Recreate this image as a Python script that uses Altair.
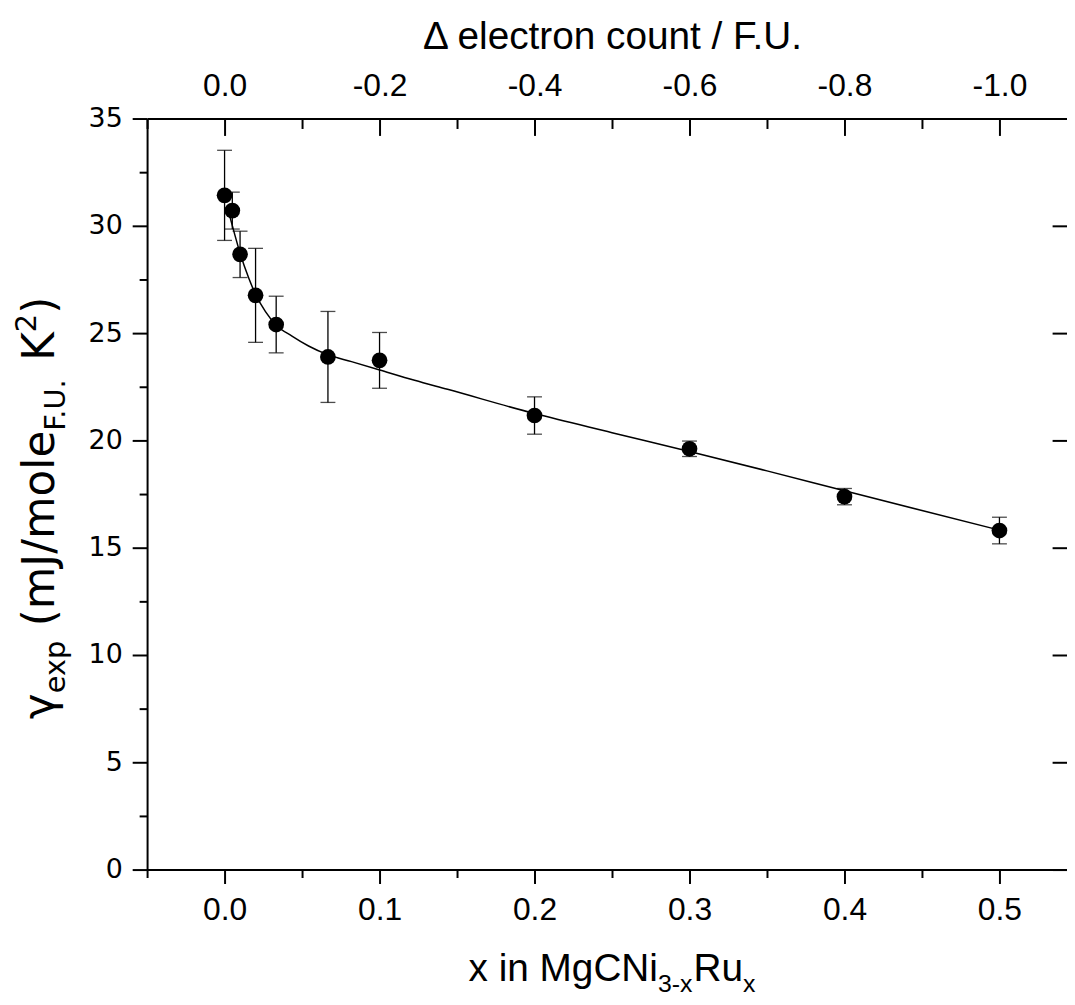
import altair as alt
import pandas as pd

# ---------------- data ----------------
x_ru = [0.0, 0.005, 0.01, 0.02, 0.0333, 0.0667, 0.1, 0.2, 0.3, 0.4, 0.5]
gamma_exp = [31.42, 30.71, 28.67, 26.76, 25.40, 23.89, 23.73, 21.16, 19.61, 17.38, 15.80]
gamma_err = [2.10, 0.86, 1.08, 2.19, 1.32, 2.12, 1.30, 0.87, 0.36, 0.38, 0.62]

fit_x = [0.0024, 0.0061, 0.0101, 0.0157, 0.0202, 0.0264, 0.0332, 0.0435, 0.0542,
         0.0661, 0.0819, 0.1001, 0.1226, 0.1439, 0.2, 0.25, 0.3, 0.35, 0.4, 0.45, 0.5]
fit_y = [30.70, 29.72, 28.70, 27.55, 26.78, 26.00, 25.38, 24.86, 24.40,
         24.01, 23.67, 23.28, 22.80, 22.38, 21.25, 20.36, 19.48, 18.58, 17.65, 16.73, 15.82]

x_major = [0.0, 0.1, 0.2, 0.3, 0.4, 0.5]
x_minor = [-0.05, 0.05, 0.15, 0.25, 0.35, 0.45]
y_major = [0, 5, 10, 15, 20, 25, 30, 35]
y_minor = [2.5, 7.5, 12.5, 17.5, 22.5, 27.5, 32.5]

top_title = "\u0394 electron count / F.U."

# ---------------- layout ----------------
W, H = 926, 756
PX_PER_X = 1560.0
X_MIN = -0.05
X_MAX = X_MIN + W / PX_PER_X
Y_MIN, Y_MAX = 0, 35

pts = pd.DataFrame({
    "x": x_ru,
    "y": gamma_exp,
    "lo": [v - e for v, e in zip(gamma_exp, gamma_err)],
    "hi": [v + e for v, e in zip(gamma_exp, gamma_err)],
})
fit = pd.DataFrame({"x": fit_x, "y": fit_y})

xs = alt.Scale(domain=[X_MIN, X_MAX], nice=False, zero=False)
ys = alt.Scale(domain=[Y_MIN, Y_MAX], nice=False, zero=False)

LF = "Liberation Sans"
XL_SIZE = 32
common = dict(grid=False, tickColor="black", domainColor="black", labelColor="black",
              tickWidth=2, domainWidth=2)

ax_bottom_major = alt.Axis(orient="bottom", values=x_major, format=".1f", tickSize=14,
                           labelFont=LF, labelFontSize=XL_SIZE, labelPadding=11,
                           labelFlush=False, labelOverlap=False, title=None, **common)
ax_bottom_minor = alt.Axis(orient="bottom", values=x_minor, tickSize=8, labels=False,
                           domain=False, title=None, **common)
ax_top_labels = alt.Axis(orient="top", values=x_major, ticks=False, tickSize=0,
                         labelExpr="datum.value == 0 ? '0.0' : '-' + format(2*datum.value, '.1f')",
                         labelFont=LF, labelFontSize=XL_SIZE, labelPadding=16,
                         labelFlush=False, labelOverlap=False,
                         title=top_title, titleFont=LF, titleFontSize=39,
                         titleFontWeight="normal", titleColor="black",
                         titleX=(0.25 - X_MIN) * PX_PER_X, titleY=-70,
                         titleBaseline="alphabetic", titleAlign="center", **common)
ax_top_major = alt.Axis(orient="top", values=x_major, offset=-17, tickSize=17,
                        labels=False, domain=False, title=None, **common)
ax_top_minor = alt.Axis(orient="top", values=x_minor, offset=-10, tickSize=10,
                        labels=False, domain=False, title=None, **common)
ax_left_major = alt.Axis(orient="left", values=y_major, format="d", tickSize=15,
                         labelFont="DejaVu Sans", labelFontSize=27, labelPadding=10,
                         labelFlush=False, labelOverlap=False, title=None, **common)
ax_left_minor = alt.Axis(orient="left", values=y_minor, tickSize=8, labels=False,
                         domain=False, title=None, **common)
ax_right_major = alt.Axis(orient="right", values=y_major, offset=-15, tickSize=15,
                          labels=False, domain=False, title=None, **common)


def X(ax):
    return alt.X("x:Q", scale=xs, axis=ax)


def Y(field, ax):
    return alt.Y(field, scale=ys, axis=ax)


curve = alt.Chart(fit).mark_line(color="black", strokeWidth=1.5, interpolate="monotone").encode(
    x=X(ax_bottom_major), y=Y("y:Q", ax_left_major))

bars = alt.Chart(pts).mark_rule(color="black", strokeWidth=1.3).encode(
    x=X(ax_bottom_minor), y=Y("lo:Q", ax_left_minor), y2="hi:Q")

cap_hi = alt.Chart(pts).mark_tick(orient="horizontal", size=15, thickness=1.3, color="black").encode(
    x=X(ax_top_labels), y=Y("hi:Q", ax_right_major))

cap_lo = alt.Chart(pts).mark_tick(orient="horizontal", size=15, thickness=1.3, color="black").encode(
    x=X(ax_top_major), y=Y("lo:Q", None))

dots = alt.Chart(pts).mark_circle(size=250, color="black", opacity=1).encode(
    x=X(ax_top_minor), y=Y("y:Q", None))

# ---------------- composed axis titles (sub/superscripts) ----------------
ARIAL = {' ': 278, '(': 333, ')': 333, '/': 278, '.': 278, '-': 333, 'a': 556, 'e': 556,
         'x': 500, 'p': 556, 'i': 222, 'n': 556, 'm': 833, 'J': 500, 'o': 556, 'l': 222,
         'g': 556, 'u': 556, 'M': 833, 'C': 722, 'N': 722, 'R': 722, 'F': 611, 'U': 722,
         'K': 667, '\u03b3': 500}
DEJAVU = {' ': 318, '(': 390, ')': 390, '/': 337, '.': 318, '-': 361, 'e': 615, 'x': 592,
          'p': 635, 'm': 974, 'J': 295, 'o': 612, 'l': 278, 'F': 575, 'U': 732, 'K': 656,
          '2': 636, '\u03b3': 592}


def tw(s, size, table):
    return sum(table.get(c, 600) for c in s) / 1000.0 * size


def compose(pieces, center, base, font, table, vertical=False):
    total = sum(tw(t, s, table) for t, s, _ in pieces)
    layers = []
    pos = 0.0
    for t, s, shift in pieces:
        # SVG drops leading/trailing blanks, so advance for them explicitly
        lead = len(t) - len(t.lstrip(" "))
        pos += tw(" " * lead, s, table)
        body = t.strip(" ")
        if vertical:
            px, py, ang = base + shift, center + total / 2 - pos, 270
        else:
            px, py, ang = center - total / 2 + pos, base + shift, 0
        layers.append(
            alt.Chart(alt.Data(values=[{}])).mark_text(
                align="left", baseline="alphabetic", font=font, fontSize=s,
                angle=ang, color="black").encode(
                x=alt.value(px), y=alt.value(py), text=alt.value(body)))
        pos += tw(t.lstrip(" "), s, table)
    return layers


bottom_title = compose([("x in MgCNi", 39, 0), ("3-x", 25, 11), ("Ru", 39, 0), ("x", 25, 11)],
                       center=(0.25 - X_MIN) * PX_PER_X, base=H + 112, font=LF, table=ARIAL)
left_title = compose([("\u03b3", 44, 0), ("exp", 29, 11), (" (mJ/mole", 44, 0),
                      ("F.U.", 29, 11), (" K", 44, 0), ("2", 29, -18), (")", 44, 0)],
                     center=392, base=-94, font="DejaVu Sans", table=DEJAVU, vertical=True)

chart = alt.layer(curve, bars, cap_hi, cap_lo, dots, *bottom_title, *left_title).resolve_axis(
    x="independent", y="independent"
).properties(
    width=W, height=H,
    padding={"left": 140, "top": 108, "right": 0, "bottom": 125},
    autosize=alt.AutoSizeParams(type="none"),
    background="white",
).configure_view(stroke="transparent")

chart.save("out.html", embed_options={"renderer": "svg", "actions": False})
